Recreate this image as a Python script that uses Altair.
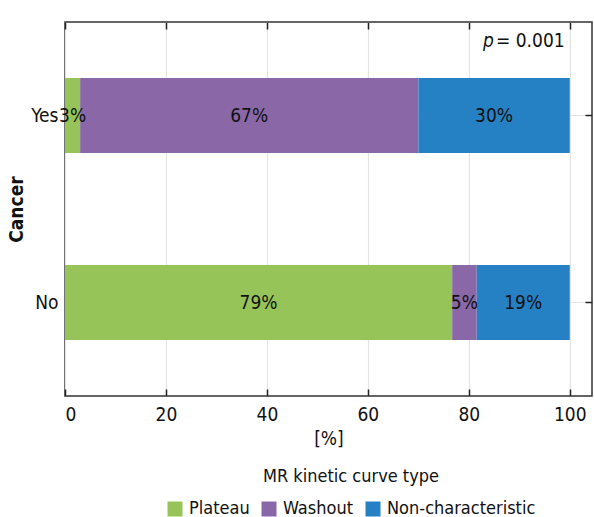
import altair as alt
import pandas as pd

# Share of MR kinetic curve types by cancer status
groups = ["Yes", "No"]
curve_types = ["Plateau", "Washout", "Non-characteristic"]
yes_values = [3, 67, 30]
no_values = [79, 5, 19]
colors = ["#96c459", "#8a68a8", "#2680c4"]
x_ticks = [0, 20, 40, 60, 80, 100]

rows = []
for g, vals in zip(groups, [yes_values, no_values]):
    for i, (t, v) in enumerate(zip(curve_types, vals)):
        rows.append({"group": g, "type": t, "order": i, "value": v, "label": f"{v}%"})
df = pd.DataFrame(rows)

FONT = "DejaVu Sans Condensed, Roboto, sans-serif"
FS = 19
LEG_FS = 18

x_scale = alt.Scale(domain=[0, 104.4], nice=False, zero=False)
y_scale = alt.Scale(domain=groups, paddingInner=0.6, paddingOuter=0.3)

base = alt.Chart(df).transform_joinaggregate(
    total="sum(value)", groupby=["group"]
).transform_calculate(
    pct="datum.value / datum.total * 100"
).transform_window(
    end="sum(pct)", groupby=["group"], sort=[alt.SortField("order")],
    frame=[None, 0]
).transform_calculate(
    start="datum.end - datum.pct", mid="(datum.end - datum.pct / 2)"
)

bars = base.mark_bar().encode(
    x=alt.X("start:Q", scale=x_scale, title="[%]",
            axis=alt.Axis(values=x_ticks, orient="bottom", offset=-7, tickSize=7,
                          tickColor="#222", tickWidth=1.5, domain=False, grid=True,
                          gridColor="#e3e3e3", gridWidth=1.2, labelPadding=9,
                          titlePadding=5)),
    x2="end:Q",
    y=alt.Y("group:N", scale=y_scale, sort=groups, title="Cancer",
            axis=alt.Axis(orient="left", offset=-7, tickSize=7, tickColor="#222",
                          tickWidth=1.5, domain=False, grid=True, gridColor="#e3e3e3",
                          gridWidth=1.2, labelPadding=7, titlePadding=4,
                          titleFontWeight="bold")),
    color=alt.Color("type:N", scale=alt.Scale(domain=curve_types, range=colors),
                    title="MR kinetic curve type",
                    legend=alt.Legend(orient="none", direction="horizontal",
                                      legendX=101, legendY=446, titleAnchor="middle",
                                      symbolType="square", symbolSize=225,
                                      symbolStrokeWidth=0, labelOffset=5,
                                      columnPadding=10, titlePadding=14,
                                      titleLimit=400, labelLimit=300)),
)

labels = base.mark_text(fontSize=FS, font=FONT, color="#111").encode(
    x=alt.X("mid:Q", scale=x_scale, axis=None),
    y=alt.Y("group:N", scale=y_scale, sort=groups, axis=None),
    text="label:N",
)

# mirrored ticks on the top and right edges
mirror = base.mark_point(opacity=0).encode(
    x=alt.X("mid:Q", scale=x_scale,
            axis=alt.Axis(values=x_ticks, orient="top", offset=-7, tickSize=7,
                          tickColor="#222", tickWidth=1.5, domain=False, grid=False,
                          labels=False, title=None)),
    y=alt.Y("group:N", scale=y_scale, sort=groups,
            axis=alt.Axis(orient="right", offset=-7, tickSize=7, tickColor="#222",
                          tickWidth=1.5, domain=False, grid=False, labels=False,
                          title=None)),
)

note = pd.DataFrame({"a": ["p"], "b": ["= 0.001"]})
p_italic = alt.Chart(note).mark_text(
    fontSize=FS, font=FONT, fontStyle="italic", align="left", baseline="alphabetic",
    color="#111"
).encode(x=alt.value(418), y=alt.value(25), text="a:N")
p_rest = alt.Chart(note).mark_text(
    fontSize=FS, font=FONT, align="left", baseline="alphabetic", color="#111"
).encode(x=alt.value(431), y=alt.value(25), text="b:N")

chart = alt.layer(bars, labels, mirror, p_italic, p_rest).resolve_axis(
    x="independent", y="independent"
).properties(
    width=527, height=374,
    autosize=alt.AutoSizeParams(type="none"),
    padding={"left": 65, "top": 22, "right": 2, "bottom": 121},
).configure(
    font=FONT,
).configure_view(
    stroke="#333", strokeWidth=1.5
).configure_axis(
    labelFont=FONT, titleFont=FONT, labelFontSize=FS, titleFontSize=FS,
    labelColor="#111", titleColor="#111", titleFontWeight="normal",
).configure_legend(
    labelFont=FONT, titleFont=FONT, labelFontSize=LEG_FS, titleFontSize=LEG_FS,
    labelColor="#111", titleColor="#111", titleFontWeight="normal",
)

chart.save("out.html", embed_options={"renderer": "svg", "actions": False})
